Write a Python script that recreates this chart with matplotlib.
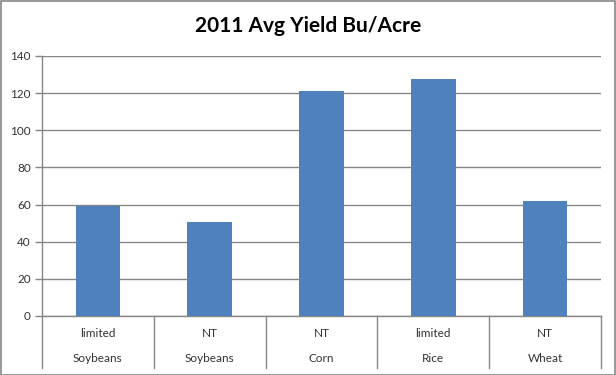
import matplotlib
matplotlib.use("Agg")
import matplotlib.pyplot as plt
from matplotlib.lines import Line2D
from matplotlib.patches import Rectangle

crops = ["Soybeans", "Soybeans", "Corn", "Rice", "Wheat"]
tillage = ["limited", "NT", "NT", "limited", "NT"]
yields = [59.3, 50.7, 121.2, 127.6, 62.0]
yticks = [0, 20, 40, 60, 80, 100, 120, 140]

plt.rcParams['font.family'] = ['Lato', 'DejaVu Sans']
grey = '#868686'

fig = plt.figure(figsize=(6.16, 3.75), dpi=100)
ax = fig.add_axes([42/616, (375-316)/375, (601-42)/616, (316-56)/375])

x = list(range(len(yields)))
ax.bar(x, yields, width=0.4, color='#4F81BD', zorder=3)
ax.set_xlim(-0.5, len(yields) - 0.5)
ax.set_ylim(0, 140)
ax.set_yticks(yticks)
ax.set_yticklabels([str(v) for v in yticks], fontsize=8.5, color='#333333')
ax.yaxis.grid(True, color=grey, linewidth=1, zorder=0)
ax.set_xticks([])
for s in ['top', 'right']:
    ax.spines[s].set_visible(False)
for s in ['left', 'bottom']:
    ax.spines[s].set_color(grey)
    ax.spines[s].set_linewidth(1)
ax.tick_params(axis='y', length=5, color=grey, width=1, pad=3)

tr = ax.get_xaxis_transform()
for i in range(len(yields) + 1):
    ax.add_line(Line2D([i - 0.5, i - 0.5], [0, -0.2], transform=tr,
                       color=grey, linewidth=1, clip_on=False))
for i, (t, c) in enumerate(zip(tillage, crops)):
    ax.text(i, -0.069, t, transform=tr, ha='center', va='center',
            fontsize=8.5, color='#333333')
    ax.text(i, -0.165, c, transform=tr, ha='center', va='center',
            fontsize=8.5, color='#333333')

fig.text(308/616, 1 - 26/375, "2011 Avg Yield Bu/Acre", ha='center', va='center',
         fontsize=15, fontweight='bold', color='black')

fig.patches.append(Rectangle((0.5/616, 0.5/375), 1 - 1.5/616, 1 - 1.5/375,
                             transform=fig.transFigure, fill=False,
                             edgecolor=grey, linewidth=1.2))

fig.savefig("out.png", dpi=100)
